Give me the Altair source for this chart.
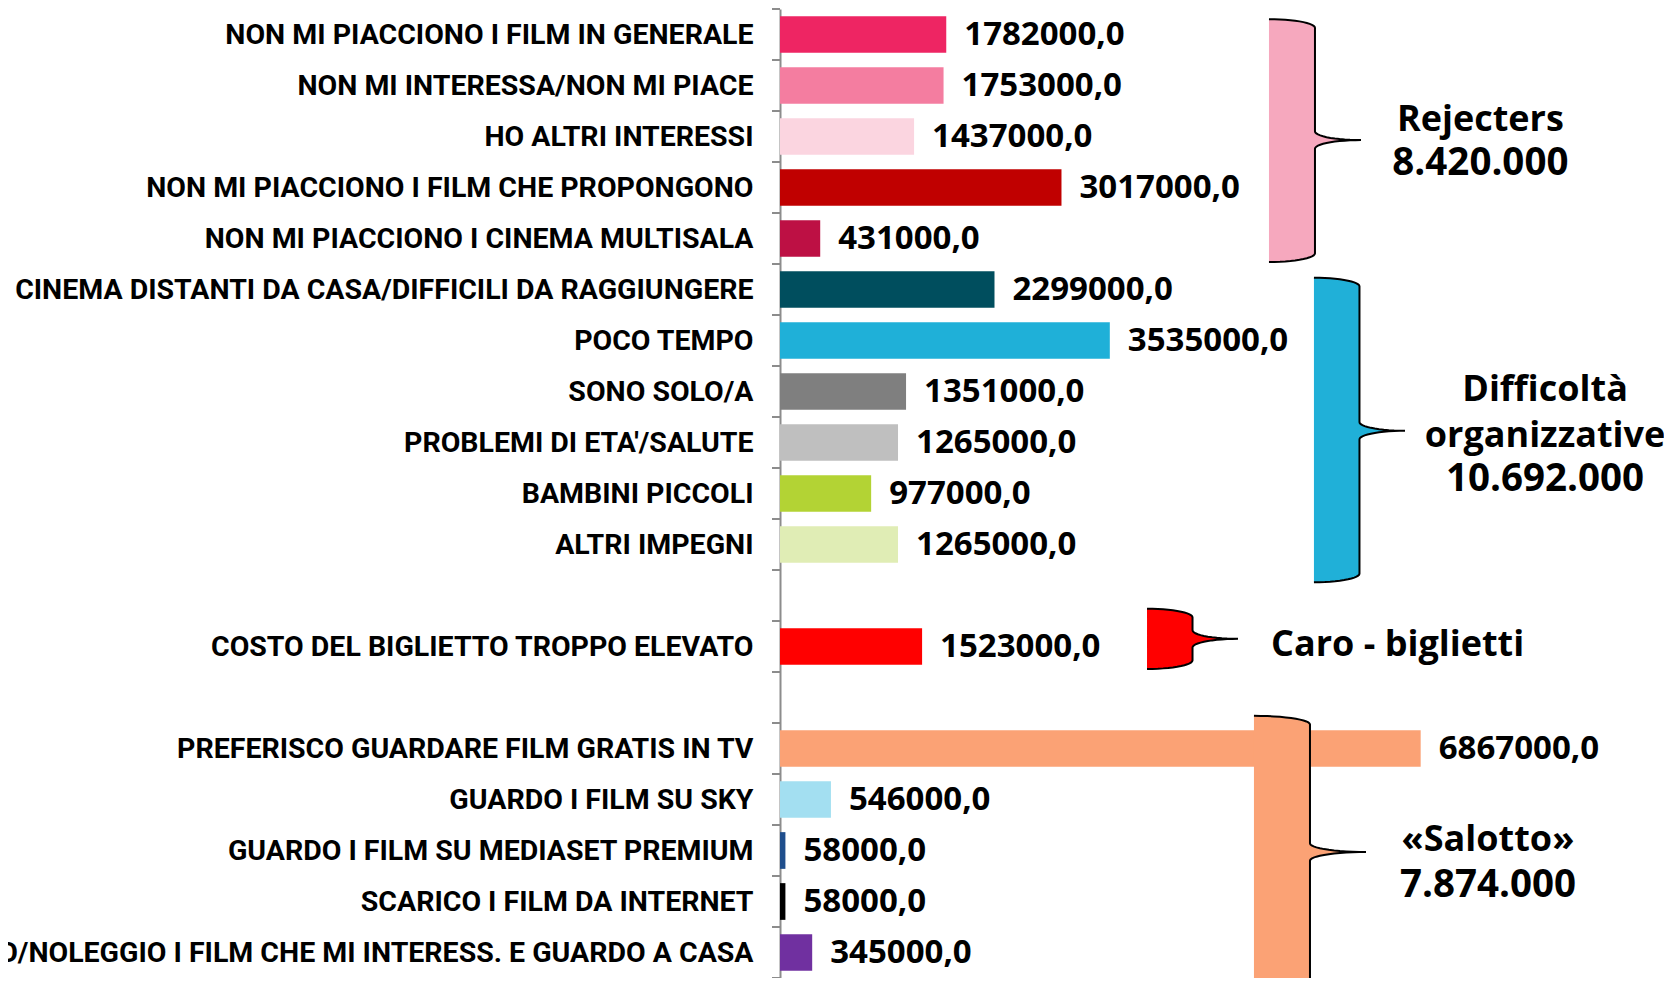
import altair as alt
import numpy as np
import pandas as pd

# ---------------- data ----------------
CATEGORIES = [
    "NON MI PIACCIONO I FILM IN GENERALE",
    "NON MI INTERESSA/NON MI PIACE",
    "HO ALTRI INTERESSI",
    "NON MI PIACCIONO I FILM CHE PROPONGONO",
    "NON MI PIACCIONO I CINEMA MULTISALA",
    "CINEMA DISTANTI DA CASA/DIFFICILI DA RAGGIUNGERE",
    "POCO TEMPO",
    "SONO SOLO/A",
    "PROBLEMI DI ETA'/SALUTE",
    "BAMBINI PICCOLI",
    "ALTRI IMPEGNI",
    " ",
    "COSTO DEL BIGLIETTO TROPPO ELEVATO",
    "  ",
    "PREFERISCO GUARDARE FILM GRATIS IN TV",
    "GUARDO I FILM SU SKY",
    "GUARDO I FILM SU MEDIASET PREMIUM",
    "SCARICO I FILM DA INTERNET",
    "COMPRO/NOLEGGIO I FILM CHE MI INTERESS. E GUARDO A CASA",
]
VALUES = [1782000, 1753000, 1437000, 3017000, 431000, 2299000, 3535000,
          1351000, 1265000, 977000, 1265000, None, 1523000, None,
          6867000, 546000, 58000, 58000, 345000]
BAR_COLORS = ["#EE2563", "#F47DA0", "#FBD5E0", "#C00000", "#BD1044",
              "#004E5E", "#1FB0D8", "#7F7F7F", "#BFBFBF", "#B3D334",
              "#E0EDB5", "#FFFFFF", "#FF0000", "#FFFFFF",
              "#FBA275", "#A3DFF1", "#1F4E8C", "#000000", "#7030A0"]

X_MAX = 9475000

# braces (rows are band units from the top, x in data units)
BRACE_NAMES = ["Rejecters", "Difficolta", "Caro", "Salotto"]
BRACE_ROW_TOP = [0.20, 5.27, 11.76, 13.86]
BRACE_ROW_TIP = [2.57, 8.27, 12.35, 16.53]
BRACE_ROW_BOTTOM = [4.96, 11.24, 12.94, 19.20]
BRACE_X_LEFT = [5241000, 5723000, 3934000, 5080000]
BRACE_X_TIP = [6227000, 6699000, 4909000, 6281000]
BRACE_FILL = ["#F6A8BE", "#20B0D8", "#FF0000", "#FBA275"]
BRACE_CURL = 0.17

# annotation texts
ANN_TEXT = ["Rejecters", "8.420.000", "Difficoltà", "organizzative", "10.692.000",
            "«Salotto»", "7.874.000"]
ANN_X = [7507000, 7507000, 8200000, 8200000, 8200000, 7588000, 7588000]
ANN_ROW = [2.40, 3.26, 7.69, 8.59, 9.46, 16.51, 17.42]
ANN_SIZE = [36, 38.5, 36, 36, 38.5, 36, 38.5]
CARO_TEXT = ["Caro - biglietti"]
CARO_X = [5263000]
CARO_ROW = [12.69]

LABEL_FONT = "Roboto"
VALUE_FONT = "Open Sans"

# ---------------- tables ----------------
bars = pd.DataFrame({"cat": CATEGORIES, "value": VALUES, "color": BAR_COLORS})
bars = bars[bars["value"].notna()].copy()
bars["label"] = bars["value"].astype(int).astype(str) + ",0"

rows = []
for name, t, m, b, l, r in zip(BRACE_NAMES, BRACE_ROW_TOP, BRACE_ROW_TIP,
                               BRACE_ROW_BOTTOM, BRACE_X_LEFT, BRACE_X_TIP):
    w = (r - l) / 2.0
    a = BRACE_CURL
    segs = [((l, t + a), 270, 360), ((r, m - a), 180, 90),
            ((r, m + a), 270, 180), ((l, b - a), 0, 90)]
    i = 0
    for (cx, cy), th0, th1 in segs:
        for th in np.linspace(th0, th1, 14):
            rad = np.deg2rad(th)
            rows.append({"brace": name, "i": i, "x": cx + w * np.cos(rad),
                         "row": cy + a * np.sin(rad), "x0": l})
            i += 1
braces = pd.DataFrame(rows)

ann = pd.DataFrame({"text": ANN_TEXT, "x": ANN_X, "row": ANN_ROW, "fs": ANN_SIZE})
caro = pd.DataFrame({"text": CARO_TEXT, "x": CARO_X, "row": CARO_ROW})
ticks = pd.DataFrame({"row": list(range(len(CATEGORIES) + 1))})

# ---------------- encodings ----------------
XS = alt.Scale(domain=[0, X_MAX], nice=False, zero=True)
y_axis = alt.Axis(title=None, ticks=False, labelFont=LABEL_FONT, labelFontSize=28.5,
                  labelFontWeight="bold", labelColor="#000000", labelPadding=27,
                  labelLimit=2000, domainColor="#8C8C8C", domainWidth=2)
Y_BAND = alt.Y("cat:N", scale=alt.Scale(domain=CATEGORIES, paddingInner=0.28,
                                        paddingOuter=0.14), axis=y_axis)
YR = alt.Scale(domain=[0, len(CATEGORIES)], reverse=True, nice=False, zero=False)

bar_layer = alt.Chart(bars).mark_bar().encode(
    x=alt.X("value:Q", scale=XS, axis=None),
    y=Y_BAND,
    color=alt.Color("cat:N", scale=alt.Scale(domain=list(bars["cat"]),
                                             range=list(bars["color"])), legend=None),
)
val_layer = alt.Chart(bars).mark_text(
    align="left", baseline="middle", dx=18, font=VALUE_FONT, fontSize=33,
    fontWeight="bold", color="#000000"
).encode(x=alt.X("value:Q", scale=XS, axis=None), y=Y_BAND, text="label:N")

main = alt.layer(bar_layer, val_layer)

fill_layer = alt.Chart(braces).mark_area(orient="horizontal").encode(
    x=alt.X("x:Q", scale=XS, axis=None),
    x2="x0:Q",
    y=alt.Y("row:Q", scale=YR, axis=None),
    color=alt.Color("brace:N", scale=alt.Scale(domain=BRACE_NAMES, range=BRACE_FILL),
                    legend=None),
)
line_layer = alt.Chart(braces).mark_line(color="#000000", strokeWidth=2).encode(
    x=alt.X("x:Q", scale=XS, axis=None),
    y=alt.Y("row:Q", scale=YR, axis=None),
    detail="brace:N",
    order="i:Q",
)
ann_layer = alt.Chart(ann).mark_text(
    align="center", baseline="alphabetic", font=VALUE_FONT,
    fontWeight="bold", color="#000000"
).encode(x=alt.X("x:Q", scale=XS, axis=None),
         y=alt.Y("row:Q", scale=YR, axis=None), text="text:N",
         size=alt.Size("fs:Q", scale=None, legend=None))
caro_layer = alt.Chart(caro).mark_text(
    align="left", baseline="alphabetic", font=VALUE_FONT, fontSize=36,
    fontWeight="bold", color="#000000"
).encode(x=alt.X("x:Q", scale=XS, axis=None),
         y=alt.Y("row:Q", scale=YR, axis=None), text="text:N")
tick_layer = alt.Chart(ticks).mark_rule(color="#8C8C8C", strokeWidth=2).encode(
    x=alt.value(-8), x2=alt.value(0),
    y=alt.Y("row:Q", scale=YR, axis=None),
)

annot = alt.layer(fill_layer, line_layer, ann_layer, caro_layer, tick_layer)

chart = alt.layer(main, annot).resolve_scale(
    y="independent", color="independent"
).properties(
    width=884, height=969,
    padding={"left": 772, "top": 1, "right": 0, "bottom": 0},
    autosize=alt.AutoSizeParams(type="none"),
    background="#FFFFFF",
).configure_view(stroke=None)

chart.save("out.html", embed_options={"renderer": "svg", "actions": False})
